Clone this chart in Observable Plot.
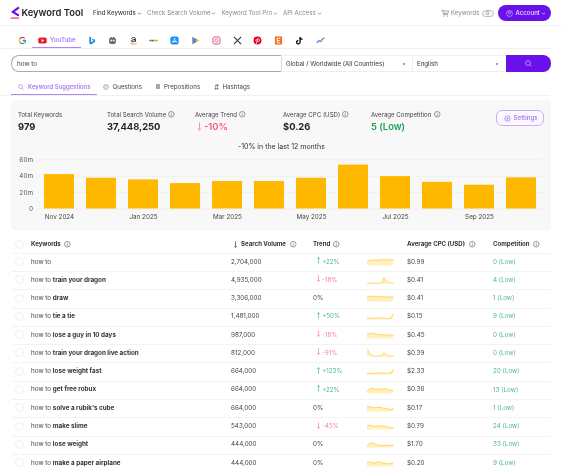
<!DOCTYPE html>
<html><head><meta charset="utf-8">
<script src="https://cdn.jsdelivr.net/npm/d3@7"></script>
<script src="https://cdn.jsdelivr.net/npm/@observablehq/plot@0.6"></script>
<style>
html,body{margin:0;padding:0;background:#fff;width:562px;height:472px;overflow:hidden;font-family:Inter,"Noto Sans",sans-serif;color:#222}
#app{position:relative;width:562px;height:472px;overflow:hidden;filter:blur(.3px)}
.t{position:absolute;white-space:nowrap;transform:translateY(-50%);line-height:1}
.b{position:absolute;box-sizing:border-box}
svg.i{position:absolute;overflow:visible}
</style></head><body><div id="app"></div>
<script>
// chart data
const months = ["Nov 2024","Dec 2024","Jan 2025","Feb 2025","Mar 2025","Apr 2025","May 2025","Jun 2025","Jul 2025","Aug 2025","Sep 2025","Oct 2025"];
const monthVolume = [42,37.5,35.5,31,33.5,33.5,37.5,53.5,39.5,32.5,29,38];
const labelledMonths = ["Nov 2024","Jan 2025","Mar 2025","May 2025","Jul 2025","Sep 2025"];
const yTicks = [0,20,40,60];
// table data
const keywordBold = ["","train your dragon","draw","tie a tie","lose a guy in 10 days","train your dragon live action","lose weight fast","get free robux","solve a rubik's cube","make slime","lose weight","make a paper airplane"];
const volumes = ["2,704,000","4,935,000","3,306,000","1,481,000","987,000","812,000","664,000","664,000","664,000","543,000","444,000","444,000"];
const trends = ["+22%","-18%","0%","+50%","-18%","-91%","+123%","+22%","0%","-45%","0%","0%"];
const cpcs = ["$0.99","$0.41","$0.41","$0.15","$0.45","$0.39","$2.33","$0.36","$0.17","$0.79","$1.70","$0.20"];
const competitions = ["0 (Low)","4 (Low)","1 (Low)","9 (Low)","0 (Low)","0 (Low)","20 (Low)","13 (Low)","1 (Low)","24 (Low)","33 (Low)","9 (Low)"];
const sparks = [
 [62,64,66,70,68,72,74,74,74,72,70,72],
 [10,8,8,8,8,8,12,75,35,18,8,8],
 [72,66,66,62,62,64,60,62,60,58,60,62],
 [22,20,22,20,22,22,24,20,18,16,28,68],
 [55,62,68,62,55,52,50,50,48,46,44,42],
 [95,45,12,10,10,10,12,50,25,12,8,8],
 [20,18,18,20,22,22,24,22,22,22,25,68],
 [28,55,68,58,56,58,58,60,58,50,45,42],
 [65,58,55,50,52,55,50,42,38,35,30,42],
 [48,55,50,42,45,52,42,48,40,35,30,28],
 [35,50,62,50,35,32,30,32,30,32,32,32],
 [52,58,50,45,58,62,50,40,45,35,40,55]
];
const rowCenters = [261.5,279.7,298,316.2,334.5,352.7,371,389.3,407.6,426,444.2,462.6];
const rowLines = [252.5,270.5,289,307.5,326,344,362.3,380.5,398.7,417.3,435.5,453.7];

const PURPLE="#6a10ea", LAV="#a66bf5", GREEN="#4fb97f", RED="#fb7f9a", GOLD="#ffb800";
const app=document.getElementById("app");
function t(x,y,s,o={}){const d=document.createElement("div");d.className="t";d.style.left=x+"px";d.style.top=y+"px";d.style.fontSize=(o.size||6.4)+"px";d.style.color=o.color||"#333";d.style.fontWeight=o.weight||400;d.textContent=s;app.appendChild(d);return d;}
function box(x,y,w,h,css=""){const d=document.createElement("div");d.className="b";d.style.cssText=`left:${x}px;top:${y}px;width:${w}px;height:${h}px;`+css;app.appendChild(d);return d;}
function icon(cx,cy,size,inner){const s=document.createElementNS("http://www.w3.org/2000/svg","svg");s.setAttribute("class","i");s.setAttribute("viewBox","0 0 10 10");s.setAttribute("width",size);s.setAttribute("height",size);s.style.left=(cx-size/2)+"px";s.style.top=(cy-size/2)+"px";s.innerHTML=inner;app.appendChild(s);}
const info=(cx,cy,c="#555")=>icon(cx,cy,6.5,`<circle cx="5" cy="5" r="4.3" fill="none" stroke="${c}" stroke-width=".9"/><path d="M5 4.4V7.4" stroke="${c}" stroke-width="1"/><circle cx="5" cy="2.9" r=".6" fill="${c}"/>`);
const caret=(cx,cy,c="#555")=>icon(cx,cy,5,`<path d="M2 3.5L5 6.5L8 3.5" fill="none" stroke="${c}" stroke-width="1.5"/>`);
const tri=(cx,cy)=>icon(cx,cy,4,`<path d="M1.5 3.5H8.5L5 7.5Z" fill="#444"/>`);
const lens=(cx,cy,size,c)=>icon(cx,cy,size,`<circle cx="4.3" cy="4.3" r="3.3" fill="none" stroke="${c}" stroke-width="1"/><path d="M6.8 6.8L9.3 9.3" stroke="${c}" stroke-width="1"/>`);
const arrow=(cx,cy,h,up,c)=>icon(cx,cy,h,up?`<path d="M5 9.5V.8M3.2 2.8L5 .8L6.8 2.8" fill="none" stroke="${c}" stroke-width="1"/>`:`<path d="M5 .5V9.2M3.2 7.2L5 9.2L6.8 7.2" fill="none" stroke="${c}" stroke-width="1"/>`);

// header
icon(15.5,12.5,13,`<path d="M7.6 1L3 4.6L7.6 7.4" fill="none" stroke="${PURPLE}" stroke-width="1.7"/><path d="M1.2 9.3H7.8" stroke="#f0458f" stroke-width="1"/>`);
t(21.5,12.5,"Keyword Tool",{size:9.4,weight:600,color:"#222"});
t(93,13.3,"Find Keywords",{size:6.05,weight:500,color:"#444"});caret(139,13);
t(147,13.3,"Check Search Volume",{size:6.1,color:"#888"});caret(213.5,13,"#777");
t(221.5,13.3,"Keyword Tool Pro",{size:6.1,color:"#888"});caret(275.5,13,"#777");
t(283,13.3,"API Access",{size:6.1,color:"#888"});caret(319,13,"#777");
icon(444.5,13,8,`<path d="M.5 1.5H2.2L3.2 7H8.5M2.5 2.5H9.5L8.7 5.5H3" fill="none" stroke="#777" stroke-width=".8"/><circle cx="3.7" cy="8.7" r=".7" fill="#777"/><circle cx="8" cy="8.7" r=".7" fill="#777"/>`);
t(451,13.3,"Keywords",{size:6.1,color:"#888"});
box(481.5,9.5,12,7.5,"border:.7px solid #bbb;border-radius:4px;background:#f6f6f6");t(486,13.3,"0",{size:5,color:"#666"});
box(498,5,52.5,16,`background:${PURPLE};border-radius:8px`);
icon(509,13,7,`<circle cx="5" cy="5" r="4.2" fill="none" stroke="#e6d8ff" stroke-width=".8"/><circle cx="5" cy="4" r="1.5" fill="none" stroke="#e6d8ff" stroke-width=".8"/>`);
t(515.5,13.3,"Account",{size:6.1,weight:500,color:"#eadfff"});caret(543,13,"#eadfff");
box(0,25,562,.7,"background:#f1f1f1");

// platform tabs
const G=(x,inner,s=9)=>icon(x,40,s,inner);
G(22,`<path d="M5 5H8.4A3.4 3.4 0 0 1 7.4 7.4" fill="none" stroke="#4285f4" stroke-width="1.4"/><path d="M7.4 7.4A3.4 3.4 0 0 1 2 6.6" fill="none" stroke="#34a853" stroke-width="1.4"/><path d="M2 6.6A3.4 3.4 0 0 1 2 3.4" fill="none" stroke="#fbbc05" stroke-width="1.4"/><path d="M2 3.4A3.4 3.4 0 0 1 7.4 2.6" fill="none" stroke="#ea4335" stroke-width="1.4"/>`);
G(42,`<rect x=".3" y="1.8" width="9.4" height="6.6" rx="1.8" fill="#e3202d"/><path d="M4 3.5L6.8 5.1L4 6.7Z" fill="#fff"/>`);
t(50,40,"YouTube",{size:6.2,weight:500,color:LAV});
box(32,47,49,1.4,`background:#b283f5`);
G(91,`<path d="M2.6.6L4.6 1.5V7L7.6 5.4L5.9 4.6L5.2 3L9 4.3V6.4L4.6 9.4L2.6 8.3Z" fill="#1b8fd6"/>`);
G(112,`<rect x="1.2" y="2" width="7.6" height="6.8" rx="2" fill="#666"/><circle cx="3.6" cy="5" r="1.1" fill="#eee"/><circle cx="6.4" cy="5" r="1.1" fill="#eee"/><path d="M3 1L4 2.5M7 1L6 2.5" stroke="#444"/>`);
G(133,`<path d="M2.5 3.2C3.5 1 7 1 7 3.5V6.6M7 3.9C3.5 4 2.5 5 2.8 6C3.3 7 6 6.5 7 4.8" fill="none" stroke="#222" stroke-width="1.1"/><path d="M1.5 8C4 9.4 6.5 9.4 8.8 8" fill="none" stroke="#f39a1f" stroke-width="1"/>`);
G(153,`<rect x=".5" y="4.2" width="2.3" height="1.7" fill="#e53238"/><rect x="2.9" y="4.2" width="2.3" height="1.7" fill="#0064d2"/><rect x="5.2" y="4.2" width="2.2" height="1.7" fill="#f5af02"/><rect x="7.4" y="4.2" width="2.2" height="1.7" fill="#86b817"/>`);
G(174,`<rect x=".5" y=".5" width="9" height="9" rx="2" fill="#1d8ff2"/><path d="M3 7.5L5.8 2.5M7 7.5L4.2 2.5M2.2 6.2H7.8" stroke="#fff" stroke-width=".8"/>`);
G(195,`<path d="M1.5.8L5.5 5L1.5 9.2Z" fill="#3b82d8"/><path d="M1.5.8L7 3.8L5.5 5Z" fill="#35a853"/><path d="M1.5 9.2L7 6.2L5.5 5Z" fill="#e8453c"/><path d="M7 3.8L9.5 5L7 6.2L5.5 5Z" fill="#fbbc05"/>`);
G(216,`<rect x="1" y="1" width="8" height="8" rx="2.2" fill="none" stroke="#d9418e" stroke-width="1"/><circle cx="5" cy="5" r="1.9" fill="none" stroke="#ea6a4c" stroke-width="1"/>`);
G(237,`<path d="M1 1L9 9M9 1L1 9" stroke="#333" stroke-width="1.2"/>`);
G(257,`<circle cx="5" cy="5" r="4.4" fill="#e60023"/><path d="M3.8 8.6L5 3.6M3.4 5.6C2.5 3 7.5 2 7.2 4.8C7 6.6 5 6.6 4.8 5.6" fill="none" stroke="#fff" stroke-width=".9"/>`);
G(278,`<rect x="1" y=".5" width="8" height="9" fill="#f2711c"/><path d="M7 2.5H3.5V7.5H7M3.5 5H6.5" fill="none" stroke="#fff" stroke-width="1"/>`);
G(299,`<path d="M5.6 1V6.8A1.9 1.9 0 1 1 3.7 5M5.6 1.2C5.8 2.8 7 3.6 8.3 3.6" fill="none" stroke="#111" stroke-width="1.5"/>`);
G(320,`<path d="M.8 8L3.2 5L5 6.5" fill="none" stroke="#3b82f6" stroke-width="1.3"/><path d="M5 6.5L7 3.5" fill="none" stroke="#ea4335" stroke-width="1.3"/><path d="M7 3.5L9.2 2" fill="none" stroke="#34a853" stroke-width="1.3"/>`);
box(0,48,550,.7,"background:#f1f1f1");

// search row
box(11,55,271,16.5,"border:.8px solid #aaa;border-right:.8px solid #ddd;border-radius:8px 0 0 8px;background:#fff");
t(17,63.5,"how to",{size:6.3,color:"#444"});
box(281,55,225,16.5,"border-top:.7px solid #eee;border-bottom:.7px solid #eee");
box(412,55,.7,16.5,"background:#eee");
t(286,63.5,"Global / Worldwide (All Countries)",{size:6.15,color:"#333"});tri(404,63.5);
t(417,63.5,"English",{size:6.15,color:"#333"});tri(497,63.5);
box(506,55,44.5,16.5,`background:${PURPLE};border-radius:0 8px 8px 0`);
lens(528,63,7,"#d9c6ff");

// sub tabs
lens(21,86.5,6,LAV);t(28,86.8,"Keyword Suggestions",{size:6,weight:500,color:LAV});
box(11,94,86,1.2,"background:#b283f5");
icon(106,86.5,6,`<circle cx="5" cy="5" r="4" fill="none" stroke="#666" stroke-width=".9"/><path d="M5 2.8V5.2H3" fill="none" stroke="#666" stroke-width=".8"/>`);
t(112.5,86.8,"Questions",{size:6.2,color:"#444"});
box(155.5,84,4.5,5,"background:#aaa");
t(164,86.8,"Prepositions",{size:6.2,color:"#444"});
t(214.5,86.6,"#",{size:7,color:"#555"});
t(222.5,86.8,"Hashtags",{size:6.2,color:"#444"});
box(0,95.2,550,.7,"background:#f1f1f1");

// stats panel
box(12,101,538,128,"background:#f8f8f8;border-radius:4px;box-shadow:0 0 2px rgba(0,0,0,.14)");
t(18,115,"Total Keywords",{size:6.1,color:"#444"});
t(18,126.7,"979",{size:9.4,weight:700,color:"#222"});
t(107,115,"Total Search Volume",{size:6.1,color:"#444"});info(171,114.7);
t(107,126.7,"37,448,250",{size:9.4,weight:700,color:"#222"});
t(195,115,"Average Trend",{size:6.1,color:"#444"});info(242,114.7);
arrow(199,126.7,9,false,"#fb8aa5");t(204,126.7,"-10%",{size:9.4,weight:600,color:"#f9577d"});
t(283,115,"Average CPC (USD)",{size:6.1,color:"#444"});info(345.5,114.7);
t(283,126.7,"$0.26",{size:9.4,weight:700,color:"#222"});
t(371,115,"Average Competition",{size:6.1,color:"#444"});info(437,114.7);
t(371,126.7,"5 (Low)",{size:9.4,weight:600,color:"#1f9d55"});
box(496,110.3,47.5,16,"border:.8px solid #c9abf8;border-radius:6px;background:#fbf9ff");
icon(507,118,7,`<circle cx="5" cy="5" r="3.9" fill="none" stroke="${LAV}" stroke-width="1.1"/><circle cx="5" cy="5" r="1.5" fill="${LAV}"/>`);
t(513.5,118.3,"Settings",{size:6.2,weight:500,color:LAV});
t(238,146.3,"-10% in the last 12 months",{size:7,color:"#333"});

// bar chart
const chart=Plot.plot({
  width:562,height:75,marginTop:9.3,marginBottom:16.5,marginLeft:37,marginRight:19,
  style:{background:"transparent",fontFamily:"Inter, sans-serif",fontSize:"6.3px",color:"#555"},
  x:{type:"band",domain:months,paddingInner:0.275,paddingOuter:0.1375,label:null},
  y:{domain:[0,60],label:null},
  marks:[
    Plot.gridY(yTicks,{stroke:"#ececec",strokeOpacity:1,strokeWidth:.8}),
    Plot.barY(months.map((m,i)=>({m,v:monthVolume[i]})),{x:"m",y:"v",fill:GOLD}),
    Plot.axisY(yTicks,{tickSize:0,tickPadding:4.5,label:null,tickFormat:d=>d?d+"m":"0",fill:"#555"}),
    Plot.axisX(labelledMonths,{tickSize:0,tickPadding:5.5,label:null,fill:"#444"})
  ]
});
chart.style.position="absolute";chart.style.left="0";chart.style.top="150px";app.appendChild(chart);

// table
box(14.5,239.5,9,9,"border:.7px solid #eee;border-radius:50%;background:#fff");
t(31,244,"Keywords",{size:6.1,weight:700,color:"#333"});info(67,244.5);
arrow(235.5,244,7,false,"#444");t(241,244,"Search Volume",{size:6.1,weight:700,color:"#333"});info(293,244);
t(313,244,"Trend",{size:6.1,weight:700,color:"#333"});info(336.5,244);
t(407,244,"Average CPC (USD)",{size:6.1,weight:700,color:"#333"});info(472.5,244);
t(493,244,"Competition",{size:6.1,weight:700,color:"#333"});info(536.5,244);

rowCenters.forEach((cy,i)=>{
  box(12,rowLines[i],538,.7,"background:#f3f3f3");
  box(14.5,cy-4.3,9,9,"border:.7px solid #eee;border-radius:50%;background:#fff");
  const kw=t(31,cy,"",{size:6.3,color:"#444"});
  kw.append("how to"+(keywordBold[i]?" ":""));
  if(keywordBold[i]){const b=document.createElement("b");b.textContent=keywordBold[i];b.style.fontWeight=700;b.style.color="#333";kw.append(b);}
  t(231,cy,volumes[i],{size:6.3,color:"#444"});
  const tr=trends[i];
  if(tr==="0%") t(313,cy,tr,{size:6.3,color:"#444"});
  else{const up=tr[0]==="+",c=up?GREEN:RED;
    arrow(318,cy-1,7,up,c);
    t(322.3,cy+.2,tr,{size:6.1,color:c});}
  const data=sparks[i].map((v,k)=>({k,v}));
  const sp=Plot.plot({width:26,height:8.5,margin:0,
    style:{background:"transparent",overflow:"visible"},
    x:{axis:null,domain:[0,11]},y:{axis:null,domain:[0,100]},
    marks:[Plot.areaY(data,{x:"k",y:"v",fill:"#fff0bd"}),
           Plot.lineY(data,{x:"k",y:"v",stroke:"#ffc42e",strokeWidth:.6})]});
  sp.style.cssText+=`;position:absolute;left:367px;top:${cy-4.8}px`;
  app.appendChild(sp);
  t(407,cy,cpcs[i],{size:6.3,color:"#444"});
  t(493,cy+.2,competitions[i],{size:6.3,color:GREEN});
});
</script></body></html>
